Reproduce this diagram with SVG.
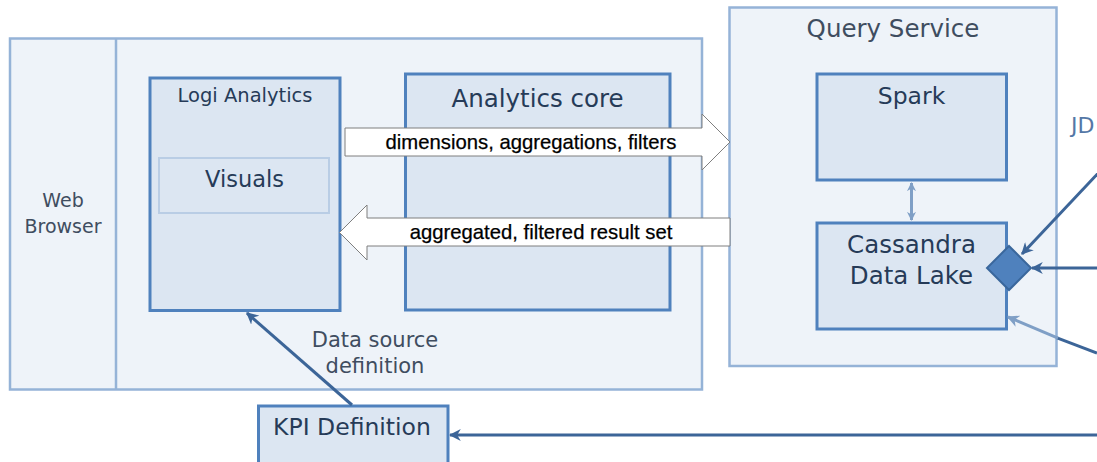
<svg xmlns="http://www.w3.org/2000/svg" width="1097" height="462" viewBox="0 0 1097 462">
<style>
.outer{fill:#eef3f9;stroke:#95b3d7;stroke-width:2.5}
.inner{fill:#dce6f2;stroke:#4f81bd;stroke-width:3}
.lbl{font-family:"DejaVu Sans",sans-serif;fill:#263b58;text-anchor:middle}
.lbl2{font-family:"DejaVu Sans",sans-serif;fill:#3f4d60;text-anchor:middle}
.big{fill:#ffffff;stroke:#7f7f7f;stroke-width:1}
.atxt{font-family:"Liberation Sans",Arial,sans-serif;font-size:20.3px;fill:#000;text-anchor:middle;stroke:#000;stroke-width:0.25}
.con{fill:none;stroke:#3c6598;stroke-width:3}
.conl{fill:none;stroke:#7f9fc6;stroke-width:3}
</style>
<defs>
<marker id="ah" viewBox="0 0 10 10" refX="9" refY="5" markerWidth="12" markerHeight="12" markerUnits="userSpaceOnUse" orient="auto">
<path d="M0,0 L10,5 L0,10 L3,5 z" fill="#3c6598"/>
</marker>
<marker id="ahl" viewBox="0 0 10 10" refX="9" refY="5" markerWidth="12" markerHeight="12" markerUnits="userSpaceOnUse" orient="auto">
<path d="M0,0 L10,5 L0,10 L3,5 z" fill="#7f9fc6"/>
</marker>
<marker id="ahs" viewBox="0 0 10 10" refX="9" refY="5" markerWidth="9" markerHeight="9" markerUnits="userSpaceOnUse" orient="auto-start-reverse">
<path d="M0,0 L10,5 L0,10 L3,5 z" fill="#7f9fc6"/>
</marker>
</defs>

<g id="web-browser">
<rect class="outer" x="10" y="38.5" width="692" height="351"/>
<line x1="116" y1="38.5" x2="116" y2="389.5" stroke="#95b3d7" stroke-width="2.5"/>
<text class="lbl2" x="63" y="207" font-size="19">Web</text>
<text class="lbl2" x="63" y="233" font-size="19">Browser</text>
</g>

<g id="logi-analytics">
<rect class="inner" x="150" y="78" width="190" height="232.5"/>
<text class="lbl" x="245" y="101.5" font-size="19.5">Logi Analytics</text>
</g>

<g id="visuals">
<rect x="159" y="158" width="170" height="55" fill="#dce6f2" stroke="#b9cde5" stroke-width="2"/>
<text class="lbl" x="244.5" y="187" font-size="22.5">Visuals</text>
</g>

<g id="analytics-core">
<rect class="inner" x="405.5" y="74" width="264.5" height="236"/>
<text class="lbl" x="537.5" y="107" font-size="24.5">Analytics core</text>
</g>

<g id="query-service">
<rect class="outer" x="729.5" y="7.5" width="327" height="358.5"/>
<text class="lbl2" x="893" y="37" font-size="24.5">Query Service</text>
</g>

<g id="spark">
<rect class="inner" x="817" y="74" width="189.5" height="106"/>
<text class="lbl" x="911.5" y="104" font-size="23.5">Spark</text>
</g>

<g id="cassandra">
<rect class="inner" x="817" y="223" width="189.5" height="106"/>
<text class="lbl" x="911.5" y="252.5" font-size="24.5">Cassandra</text>
<text class="lbl" x="911.5" y="284" font-size="24.5">Data Lake</text>
</g>

<g id="connector-diamond">
<path d="M1009,246 L1031,268 L1009,290 L987,268 z" fill="#4f81bd" stroke="#3a679c" stroke-width="2"/>
</g>

<g id="kpi-definition">
<rect class="inner" x="258.5" y="406" width="189.5" height="60"/>
<text class="lbl" x="352" y="435" font-size="23.5">KPI Definition</text>
</g>

<g id="jdbc-label">
<text x="1071" y="133" font-family="DejaVu Sans,sans-serif" font-size="22" fill="#5477a6">JD</text>
</g>

<g id="connectors">
<path class="big" d="M345,128 L702,128 L702,114 L730,142 L702,170 L702,156 L345,156 z"/>
<text class="atxt" x="531" y="148.5">dimensions, aggregations, filters</text>
<path class="big" d="M730,218 L367,218 L367,205 L339.5,232.5 L367,260 L367,246 L730,246 z"/>
<text class="atxt" x="541" y="239">aggregated, filtered result set</text>
<line class="conl" x1="911.5" y1="183" x2="911.5" y2="220" stroke-width="2.5" marker-start="url(#ahs)" marker-end="url(#ahs)"/>
<line class="con" x1="1104" y1="167" x2="1022" y2="254" marker-end="url(#ah)"/>
<line class="con" x1="1097" y1="268" x2="1032" y2="268" marker-end="url(#ah)"/>
<line class="con" x1="1097" y1="353" x2="1057" y2="337.8"/>
<line class="conl" x1="1058" y1="338.2" x2="1008" y2="317" marker-end="url(#ahl)"/>
<line class="con" x1="1097" y1="435" x2="450" y2="435" marker-end="url(#ah)"/>
<line class="con" x1="352" y1="405" x2="247" y2="313" marker-end="url(#ah)"/>
<text class="lbl2" x="375" y="347" font-size="21">Data source</text>
<text class="lbl2" x="375" y="373" font-size="21">definition</text>
</g>
</svg>
